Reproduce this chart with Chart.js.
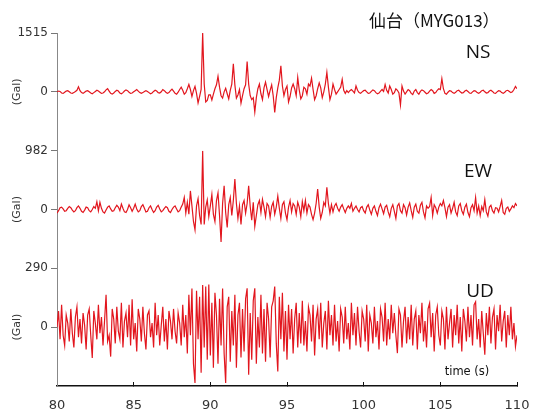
<!DOCTYPE html>
<html>
<head>
<meta charset="utf-8">
<script src="https://cdn.jsdelivr.net/npm/chart.js@4"></script>
<style>
html, body { margin: 0; padding: 0; background: #fff; }
#wrap { width: 538px; height: 414px; }
</style>
</head>
<body>
<div id="wrap"><canvas id="chartMYG"></canvas></div>
<script>
// sampling of the records (s)
const startTime = 80;
const sampleStep = 0.1;
const xTicks = [80, 85, 90, 95, 100, 105, 110];

// peak values shown on each axis (Gal)
const peakNS = 1515;
const peakEW = 982;
const peakUD = 290;

// NS component (Gal), one row per second
const valuesNS = [
  0, 20, 10, -30, -40, -10, 20, 30, 0, -30,
  -40, -20, 10, 40, 130, 30, -20, -40, -10, 20,
  30, 0, -30, -50, -20, 10, 40, 20, -10, -40,
  -30, 0, 50, 80, 20, -40, -60, -30, 10, 40,
  20, -30, -50, -20, 20, 50, 30, -10, -40, -30,
  0, 30, 60, 20, -20, -40, -20, 10, 30, 10,
  -20, -50, -30, 10, 40, 20, -20, -30, 0, 60,
  30, -10, -40, -20, 30, 70, 20, -40, -60, -10,
  60, 120, 40, -60, -20, 80, 190, 60, -120, 30,
  140, -40, -285, -120, 60, 1515, 200, -260, -220, -80,
  -80, -210, -60, 80, 180, 400, 120, -100, -160, 0,
  90, -50, -180, 40, 200, 720, 180, -160, -80, 60,
  -290, -100, 80, 180, 780, 200, -100, -200, -150, -520,
  -150, 80, 200, -50, -200, 100, 250, 60, -120, 40,
  180, -100, -530, -150, 100, 300, 670, 150, -100, 60,
  150, -260, -120, 100, 200, 80, -100, 370, 40, -180,
  -100, 120, 80, -60, 200, 150, 350, 60, -200, -100,
  80, 230, 100, -150, 0, 200, 500, 120, -200, -60,
  200, 60, -60, 0, 60, 120, 320, 40, -40, 30,
  -20, 30, 60, 20, -30, 150, 40, -20, -40, 0,
  30, 40, 0, -40, -30, 10, 50, 30, -20, -50,
  -30, 20, 60, 10, 190, 40, -30, 150, 60, -60,
  -20, 80, 40, -30, -340, 150, 20, -60, 0, 60,
  30, -40, -70, 20, 60, -20, -60, 10, 50, 30,
  -10, -50, -30, 20, 60, 30, -40, -20, 40, 80,
  60, 340, 80, -40, -60, -10, 30, 20, -20, -40,
  -10, 30, 40, 0, -30, -20, 20, 40, 10, -30,
  -40, 0, 30, 20, -20, -40, -10, 30, 40, 0,
  -30, -20, 20, 40, 10, -30, -40, 0, 30, 20,
  -20, -40, -10, 30, 40, 10, -20, 0, 60, 140,
  80
];

// EW component (Gal)
const valuesEW = [
  -60, -20, 30, 40, 10, -30, -20, 20, 50, 30,
  -10, -40, -20, 30, 60, 20, -30, -50, -10, 40,
  30, -20, -40, 0, 50, 20, 130, -20, 120, 20,
  -40, -60, -10, 40, 60, 10, -30, -20, 30, 70,
  40, -20, 90, 20, -40, -50, 0, 80, 30, -30,
  20, 90, 10, -40, -20, 50, 80, 20, -40, -30,
  30, 60, 0, -50, -20, 40, 70, 10, -40, -20,
  20, 50, 30, -30, -50, 0, 40, 60, 10, -40,
  -20, 40, 90, 200, -60, 120, -80, 310, 60, -200,
  -340, 60, 180, -100, -250, 982, -250, 40, 160, -120,
  60, 250, -80, -200, 150, 280, -100, -540, 100, 395,
  -50, -300, 80, 200, -100, 150, 510, 100, -150, 60,
  -250, 80, 150, -60, 100, 395, 50, -180, 120, -280,
  -100, 80, 150, -50, 170, 40, -120, 100, 60, -130,
  50, 120, -80, 40, 225, 20, -150, 80, 130, -60,
  -170, 40, 150, -40, 100, 60, -80, 120, 40, -120,
  130, -20, 150, -60, 80, 40, -80, -170, -60, 100,
  340, 40, -150, -50, 120, 60, 370, 100, -60, 80,
  -40, 60, 100, 20, -30, 40, 80, 10, -50, 20,
  60, 20, 100, -30, 20, 60, 0, -40, 30, 50,
  -20, -60, 40, 80, -10, -80, 20, 60, -30, -100,
  30, 90, 10, -70, 40, 70, -40, -120, 20, 80,
  -30, -150, 60, 100, -20, -60, 80, 30, -90, 40,
  110, -20, -130, 40, 90, -30, -60, 70, 120, -40,
  -140, 60, 20, 50, 200, -100, 80, 30, -60, 40,
  100, 60, 150, 30, -120, 40, 80, -60, 20, 120,
  -40, -100, 60, 100, -20, -80, 40, 90, -50, -120,
  30, 80, -20, 200, -60, 60, -100, 50, -20, 165,
  -40, -110, 40, 70, -20, -60, 30, 20, -40, 50,
  150, -50, -80, 20, 40, -30, 10, 60, 30, 100,
  60
];

// UD component (Gal)
const valuesUD = [
  0, 80, -60, 110, -40, -90, 60, 20, -70, 90,
  -30, -100, 50, 100, -50, 40, -80, 70, 10, -110,
  60, 90, -40, -152, 80, 20, -60, 110, -30, 50,
  -90, 30, 160, -70, -40, -145, 90, 40, -80, 100,
  -20, -60, 120, -100, 30, 70, -50, 110, -90, 138,
  -60, 20, -120, 90, 40, -70, 100, -30, -110, 60,
  80, -50, 20, -100, 120, -40, 60, -90, 10, 100,
  -70, 40, -110, 80, 30, -60, 90, -20, -80, 70,
  20, -90, 110, -50, 60, -130, 160, -40, 190, -180,
  -275, 180, -60, 150, -225, 208, -100, 200, -160, 210,
  -140, 120, -200, 170, 60, -180, 140, -90, 190, -130,
  -275, 100, 150, -170, 80, -90, 160, -200, 60, 120,
  -150, 90, -120, 140, 192, -235, 70, -160, 130, 192,
  -180, 50, -100, 160, -130, 90, -170, 120, 40, -150,
  100, 130, 200, -80, -218, 150, -60, 170, -120, 80,
  -160, 110, -60, 90, -130, 40, 120, -100, 70, -80,
  130, -90, 30, -120, 100, 60, -70, 110, -140, 40,
  90, -60, 120, -100, 20, 80, -110, 130, -40, 60,
  -90, 110, -70, 30, -120, 90, 50, -80, 100, -60,
  20, -110, 120, -40, 70, -90, 100, -20, -100, 80,
  40, -70, 110, -120, 60, 20, -80, 100, -50, 30,
  -110, 90, 50, -70, 120, -90, 40, -60, 110, -30,
  70, -40, -128, 90, 60, -100, 30, 100, -80, 50,
  -60, 110, -90, 40, 80, -110, 60, -30, 120, -70,
  30, -100, 90, 118, -50, 70, -120, 60, 100, -40,
  -90, 80, 40, -110, 100, -60, 20, 90, -100, 60,
  -40, 110, -80, 50, -120, 90, 30, -70, 100, -50,
  60, -90, 110, 125, -60, 40, -100, 80, -30, -136,
  70, -40, 100, -80, 50, 90, -110, 60, -20, 110,
  -70, 30, 80, -100, 60, -40, 100, -60, 20, -95,
  -40
];

const traceColor = 'rgb(226, 22, 30)';

// turn a list of samples into {x, y} points on the time axis
function toPoints(values) {
  return values.map((v, i) => ({ x: startTime + i * sampleStep, y: v }));
}

// one stacked y axis per component, only 0 and the peak are labelled
function traceAxis(peak) {
  return {
    type: 'linear',
    position: 'left',
    stack: 'traces',
    stackWeight: 1,
    offset: false,
    min: -peak,
    max: peak,
    afterBuildTicks: (scale) => {
      scale.ticks = [{ value: 0 }, { value: peak }];
    },
    afterFit: (scale) => {
      scale.width = 57;
    },
    ticks: {
      color: '#333',
      font: { family: 'DejaVu Sans', size: 12 },
      padding: 3,
      callback: (v) => String(v)
    },
    grid: {
      drawOnChartArea: false,
      drawTicks: true,
      tickLength: 6,
      color: '#777'
    },
    border: { color: '#888', width: 1 },
    title: {
      display: true,
      text: '(Gal)',
      color: '#333',
      font: { family: 'DejaVu Sans', size: 11 },
      padding: { top: 11, bottom: 0 }
    }
  };
}

// labels written on the plot
const labelPlugin = {
  id: 'labels',
  afterDraw(chart) {
    const ctx = chart.ctx;
    ctx.save();
    ctx.fillStyle = '#111';
    ctx.textBaseline = 'middle';
    ctx.textAlign = 'left';
    ctx.font = '17px "Noto Sans CJK JP"';
    ctx.fillText('仙台（MYG013）', 369, 21);
    ctx.textAlign = 'center';
    ctx.font = '19px "Open Sans"';
    ctx.fillText('NS', 478, 53);
    ctx.fillText('EW', 478, 172);
    ctx.fillText('UD', 480, 292);
    ctx.font = '11.5px "DejaVu Sans"';
    ctx.fillText('time (s)', 467, 372);
    ctx.restore();
  }
};

const ctx = document.getElementById('chartMYG').getContext('2d');

window.chart = new Chart(ctx, {
  type: 'line',
  data: {
    datasets: [
      { label: 'NS', data: toPoints(valuesNS), yAxisID: 'yNS' },
      { label: 'EW', data: toPoints(valuesEW), yAxisID: 'yEW' },
      { label: 'UD', data: toPoints(valuesUD), yAxisID: 'yUD' }
    ].map(ds => Object.assign(ds, {
      borderColor: traceColor,
      borderWidth: 1.2,
      pointRadius: 0,
      tension: 0,
      fill: false
    }))
  },
  options: {
    responsive: true,
    maintainAspectRatio: false,
    animation: false,
    layout: { padding: { left: 0, right: 21, top: 33, bottom: 0 } },
    plugins: {
      legend: { display: false },
      tooltip: { enabled: false }
    },
    scales: {
      x: {
        type: 'linear',
        min: 80,
        max: 110,
        afterBuildTicks: (scale) => {
          scale.ticks = xTicks.map(v => ({ value: v }));
        },
        afterFit: (scale) => {
          scale.height = 28;
          scale.paddingLeft = 0;
          scale.paddingRight = 0;
        },
        ticks: {
          color: '#333',
          font: { family: 'DejaVu Sans', size: 13 },
          padding: 16,
          maxRotation: 0
        },
        grid: {
          drawOnChartArea: false,
          drawTicks: true,
          tickLength: -4,
          color: '#111'
        },
        border: { color: '#111', width: 1.5 }
      },
      // stacked left axes are placed bottom-up, so UD comes first
      yUD: traceAxis(peakUD),
      yEW: traceAxis(peakEW),
      yNS: traceAxis(peakNS)
    }
  },
  plugins: [labelPlugin]
});
</script>
</body>
</html>
